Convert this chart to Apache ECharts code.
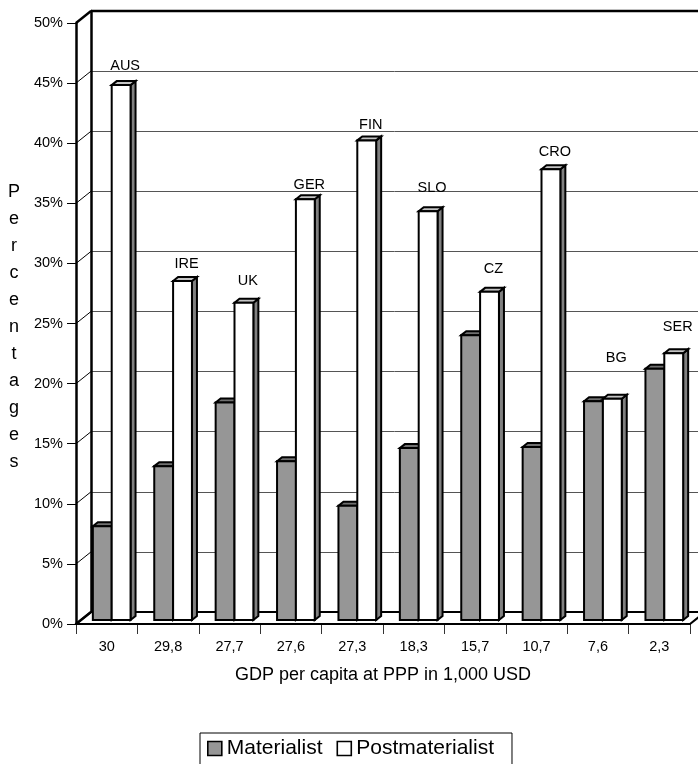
<!DOCTYPE html>
<html>
<head>
<meta charset="utf-8">
<script src="https://cdn.jsdelivr.net/npm/echarts/dist/echarts.min.js"></script>
<style>
  html, body { margin: 0; padding: 0; background: #fff; }
  #chart { width: 698px; height: 764px; }
</style>
</head>
<body>
<div id="chart"></div>
<script>
// GDP per capita (1,000 USD) shown under each country pair
const gdpLabels = ['30', '29,8', '27,7', '27,6', '27,3', '18,3', '15,7', '10,7', '7,6', '2,3'];
const countries = ['AUS', 'IRE', 'UK', 'GER', 'FIN', 'SLO', 'CZ', 'CRO', 'BG', 'SER'];
// Share of respondents (%)
const materialist     = [7.8, 12.8, 18.1, 13.2, 9.5, 14.3, 23.7, 14.4, 18.2, 20.9];
const postmaterialist = [44.5, 28.2, 26.4, 35.0, 39.9, 34.0, 27.3, 37.5, 18.4, 22.2];
const yTicks = [0, 5, 10, 15, 20, 25, 30, 35, 40, 45, 50];

// pseudo-3D styling
const FONT = "'Liberation Sans', Arial, sans-serif";
const DEPTH_X = 15, DEPTH_Y = 12;        // full depth of the box
const BAR_DX = 5, BAR_DY = 4;            // depth of one bar
const BAR_FRACTION = 0.307;              // bar face width / category band
const labelRaise = [19, 17, 22, 14, 15, 23, 23, 17, 41, 26];
const Y_MAX = 50;

const seriesStyle = [
  { face: '#969696', cap: '#707070', side: '#4b4b4b' },
  { face: '#ffffff', cap: '#c4c4c4', side: '#808080' }
];

function barRenderer(seriesIdx) {
  return function (params, api) {
    const i = api.value(0), v = api.value(1);
    const top = api.coord([i, v]);
    const base = api.coord([i, 0]);
    const band = api.size([1, 0])[0];
    const w = band * BAR_FRACTION;
    const x0 = seriesIdx === 0 ? top[0] - w : top[0];
    const x1 = x0 + w;
    const yt = top[1], yb = base[1];
    const st = seriesStyle[seriesIdx];
    const stroke = { stroke: '#000', lineWidth: 2, lineJoin: 'miter' };
    const children = [
      { type: 'polygon', shape: { points: [[x1, yt], [x1 + BAR_DX, yt - BAR_DY], [x1 + BAR_DX, yb - BAR_DY], [x1, yb]] },
        style: Object.assign({ fill: st.side }, stroke) },
      { type: 'polygon', shape: { points: [[x0, yt], [x0 + BAR_DX, yt - BAR_DY], [x1 + BAR_DX, yt - BAR_DY], [x1, yt]] },
        style: Object.assign({ fill: st.cap }, stroke) },
      { type: 'rect', shape: { x: x0, y: yt, width: w, height: yb - yt },
        style: Object.assign({ fill: st.face }, stroke) }
    ];
    if (seriesIdx === 1) {
      children.push({
        type: 'text',
        style: {
          text: countries[params.dataIndex],
          x: (x0 + x1) / 2 + 4, y: yt - labelRaise[params.dataIndex],
          align: 'center', verticalAlign: 'middle',
          font: '14.5px ' + FONT, fill: '#000'
        }
      });
    }
    return { type: 'group', children: children };
  };
}

// floor, back wall top edge and the slanted tick connectors on the side wall
function frameRenderer(params, api) {
  const band = api.size([1, 0])[0];
  const p0 = api.coord([0, 0]);
  const pN = api.coord([countries.length - 1, 0]);
  const L = p0[0] - band / 2, R = pN[0] + band / 2, yb = p0[1];
  const yt = api.coord([0, Y_MAX])[1];
  const children = [
    { type: 'polygon', shape: { points: [[L, yb], [R, yb], [R + DEPTH_X, yb - DEPTH_Y], [L + DEPTH_X, yb - DEPTH_Y]] },
      style: { fill: '#fff', stroke: '#000', lineWidth: 2 } },
    { type: 'line', shape: { x1: L + DEPTH_X, y1: yt - DEPTH_Y, x2: R + DEPTH_X + 20, y2: yt - DEPTH_Y },
      style: { stroke: '#000', lineWidth: 2.5 } }
  ];
  yTicks.forEach(function (v) {
    const y = api.coord([0, v])[1];
    const heavy = (v === 0 || v === Y_MAX);
    children.push({ type: 'line', shape: { x1: L, y1: y, x2: L + DEPTH_X, y2: y - DEPTH_Y },
      style: { stroke: '#000', lineWidth: heavy ? 2.5 : 1 } });
  });
  return { type: 'group', children: children };
}

const chart = echarts.init(document.getElementById('chart'), null, { renderer: 'canvas' });

const option = {
  animation: false,
  backgroundColor: '#fff',
  grid: [
    { left: 76, top: 23, width: 614, height: 601 },                  // front plane
    { left: 76 + DEPTH_X, top: 23 - DEPTH_Y, width: 614, height: 601 }, // back wall
    { left: 81, top: 19, width: 614, height: 601 }                   // bar plane
  ],
  xAxis: [
    { gridIndex: 0, type: 'category', data: gdpLabels, boundaryGap: true,
      axisLine: { show: true, lineStyle: { color: '#000', width: 2 } },
      axisTick: { show: true, length: 10, interval: 0, lineStyle: { color: '#333', width: 1 } },
      axisLabel: { margin: 15, fontSize: 14.5, fontFamily: FONT, color: '#000', interval: 0 },
      splitLine: { show: false } },
    { gridIndex: 1, type: 'category', data: gdpLabels, show: false },
    { gridIndex: 2, type: 'category', data: countries, show: false }
  ],
  yAxis: [
    { gridIndex: 0, type: 'value', min: 0, max: Y_MAX, interval: 5,
      axisLine: { show: true, lineStyle: { color: '#000', width: 2.5 } },
      axisTick: { show: true, length: 9, lineStyle: { color: '#000', width: 1 } },
      axisLabel: { margin: 13, fontSize: 14.5, fontFamily: FONT, color: '#000', formatter: '{value}%' },
      splitLine: { show: false } },
    { gridIndex: 1, type: 'value', min: 0, max: Y_MAX, interval: 5,
      axisLine: { show: true, lineStyle: { color: '#000', width: 2.5 } },
      axisTick: { show: false }, axisLabel: { show: false },
      splitLine: { show: true, lineStyle: { color: '#555', width: 1 } } },
    { gridIndex: 2, type: 'value', min: 0, max: Y_MAX, show: false }
  ],
  legend: {
    data: ['Materialist', 'Postmaterialist'],
    left: 200, top: 733,
    orient: 'horizontal',
    icon: 'rect', itemWidth: 14, itemHeight: 14, itemGap: 14,
    padding: [5, 18, 8, 7],
    borderColor: '#000', borderWidth: 1,
    itemStyle: { borderColor: '#000', borderWidth: 1.6 },
    textStyle: { fontSize: 21, fontFamily: FONT, color: '#000' }
  },
  graphic: [
    { type: 'text', silent: true, x: 383, y: 675,
      style: { text: 'GDP per capita at PPP in 1,000 USD', align: 'center', verticalAlign: 'middle',
               font: '18px ' + FONT, fill: '#000' } },
    { type: 'text', silent: true, x: 14, y: 179,
      style: { text: 'Percentages'.split('').join('\n'), align: 'center', verticalAlign: 'top',
               font: '18px ' + FONT, lineHeight: 27, fill: '#000' } }
  ],
  series: [
    { type: 'custom', xAxisIndex: 0, yAxisIndex: 0, silent: true, z: 1,
      renderItem: frameRenderer, data: [[0, 0]] },
    { type: 'custom', name: 'Materialist', xAxisIndex: 2, yAxisIndex: 2, z: 3,
      itemStyle: { color: '#969696', borderColor: '#000', borderWidth: 1.6 },
      renderItem: barRenderer(0),
      data: materialist.map(function (v, i) { return [i, v]; }) },
    { type: 'custom', name: 'Postmaterialist', xAxisIndex: 2, yAxisIndex: 2, z: 4,
      itemStyle: { color: '#ffffff', borderColor: '#000', borderWidth: 1.6 },
      renderItem: barRenderer(1),
      data: postmaterialist.map(function (v, i) { return [i, v]; }) }
  ]
};

chart.setOption(option);
</script>
</body>
</html>
